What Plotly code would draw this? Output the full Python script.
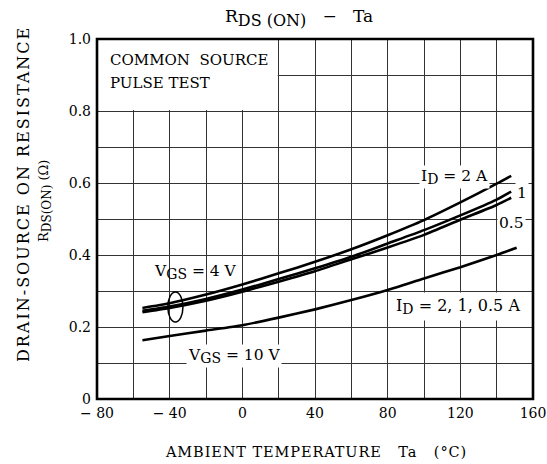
import plotly.graph_objects as go

# ---- data ----
ta_4v = [-55, -40, -20, 0, 20, 40, 60, 80, 100, 120, 140, 148]
r_4v_2a = [0.253, 0.266, 0.290, 0.318, 0.349, 0.381, 0.416, 0.455, 0.497, 0.546, 0.598, 0.620]
r_4v_1a = [0.245, 0.257, 0.278, 0.304, 0.333, 0.363, 0.395, 0.432, 0.469, 0.510, 0.554, 0.576]
r_4v_05a = [0.241, 0.253, 0.273, 0.298, 0.326, 0.355, 0.388, 0.421, 0.456, 0.498, 0.539, 0.559]

ta_10v = [-55, -40, -20, 0, 20, 40, 60, 80, 100, 120, 140, 151]
r_10v = [0.163, 0.175, 0.190, 0.205, 0.226, 0.249, 0.275, 0.303, 0.335, 0.366, 0.400, 0.420]

x_tickvals = [-80, -40, 0, 40, 80, 120, 160]
x_ticktext = ["\u2212 80", "\u2212 40", "0", "40", "80", "120", "160"]
y_tickvals = [0, 0.2, 0.4, 0.6, 0.8, 1.0]
y_ticktext = ["0", "0.2", "0.4", "0.6", "0.8", "1.0"]

FONT = "DejaVu Serif"
GRID = "#333333"

# plot area in pixels
L, R, T, B = 97, 533, 39, 399
PW, PH = R - L, B - T


def px_x(p):
    return (p - L) / PW


def px_y(p):
    return (B - p) / PH


def sub(s, size):
    return '<sub><span style="font-size:%spx">%s</span></sub>' % (size, s)


def spaced(s, ls):
    return '<span style="letter-spacing:%spx">%s</span>' % (ls, s)


fig = go.Figure()
for r in (r_4v_2a, r_4v_1a, r_4v_05a):
    fig.add_trace(go.Scatter(x=ta_4v, y=r, mode="lines", line_shape="spline",
                             line=dict(color="black", width=2.6, smoothing=0.6),
                             hoverinfo="skip"))
fig.add_trace(go.Scatter(x=ta_10v, y=r_10v, mode="lines", line_shape="spline",
                         line=dict(color="black", width=2.6, smoothing=0.6),
                         hoverinfo="skip"))

axis_common = dict(showgrid=True, gridcolor=GRID, gridwidth=1.3, zeroline=False,
                   showline=False, ticks="", automargin=False,
                   tickfont=dict(size=14, family=FONT, color="black"))

fig.update_layout(
    width=547, height=464,
    margin=dict(l=L, r=547 - R, t=T, b=464 - B, autoexpand=False),
    paper_bgcolor="white", plot_bgcolor="white",
    showlegend=False,
    font=dict(family=FONT, color="black", size=14),
    xaxis=dict(range=[-80, 160], tickvals=x_tickvals, ticktext=x_ticktext,
               ticklabelstandoff=4,
               minor=dict(dtick=20, tick0=-80, showgrid=True, gridcolor=GRID, gridwidth=1.3),
               **axis_common),
    yaxis=dict(range=[0, 1.0], tickvals=y_tickvals, ticktext=y_ticktext,
               ticklabelstandoff=5,
               minor=dict(dtick=0.1, tick0=0, showgrid=True, gridcolor=GRID, gridwidth=1.3),
               **axis_common),
)

# white box behind "COMMON SOURCE / PULSE TEST" (grid absent there)
fig.add_shape(type="rect", xref="x", yref="y", x0=-80, x1=19.5, y0=0.803, y1=1.0,
              fillcolor="white", line=dict(width=0), layer="above")
# plot frame
fig.add_shape(type="rect", xref="paper", yref="paper", x0=0, x1=1, y0=0, y1=1,
              line=dict(color="black", width=2.6), layer="above")
# ellipse marking VGS = 4 V group
fig.add_shape(type="circle", xref="x", yref="y", x0=-41, x1=-32.7, y0=0.214, y1=0.297,
              line=dict(color="black", width=1.5), layer="above")


def ann(text, x, y, xanchor="left", bg=None, size=15.5, **kw):
    d = dict(text=text, x=x, y=y, xref="x", yref="y", xanchor=xanchor, yanchor="middle",
             showarrow=False, font=dict(family=FONT, size=size, color="black"))
    if bg:
        d.update(bgcolor=bg)
    d.update(kw)
    fig.add_annotation(**d)


ann("COMMON  SOURCE", -74, 0.942, size=15)
ann("PULSE TEST", -74, 0.878, size=15)
ann("V" + sub("GS", 14) + " = 4 V", -49.5, 0.353)
ann("V" + sub("GS", 14) + " = 10 V", -31, 0.119, bg="white")
ann("I" + sub("D", 14) + " = 2, 1, 0.5 A", 82.5, 0.256, bg="white", borderpad=3, size=16)
ann("I" + sub("D", 14) + " = 2 A", 97.5, 0.617, bg="white")
ann("1", 153.9, 0.572, xanchor="center", bg="white")
ann("0.5", 147.9, 0.489, xanchor="center", bg="white")

# title
fig.add_annotation(text="R" + sub("DS (ON)", 16) + "   \u2212   Ta", xref="paper", yref="paper",
                   x=px_x(223), y=px_y(18), xanchor="left", yanchor="middle",
                   showarrow=False, font=dict(family=FONT, size=17, color="black"))
# x-axis title
fig.add_annotation(text=spaced("AMBIENT TEMPERATURE   Ta   (\u00b0C)", 0.9), xref="paper", yref="paper",
                   x=px_x(163), y=px_y(452), xanchor="left", yanchor="middle",
                   showarrow=False, font=dict(family=FONT, size=14.5, color="black"))
# y-axis title (two lines)
fig.add_annotation(text=spaced("DRAIN-SOURCE ON RESISTANCE", 2.0), xref="paper", yref="paper",
                   x=px_x(23), y=px_y(364), xanchor="center", yanchor="bottom",
                   textangle=-90, showarrow=False, font=dict(family=FONT, size=16, color="black"))
fig.add_annotation(text="R" + sub("DS(ON)", 12) + " (\u03a9)", xref="paper", yref="paper",
                   x=px_x(45), y=px_y(244), xanchor="center", yanchor="bottom",
                   textangle=-90, showarrow=False, font=dict(family=FONT, size=13, color="black"))

fig.write_html("out.html")
